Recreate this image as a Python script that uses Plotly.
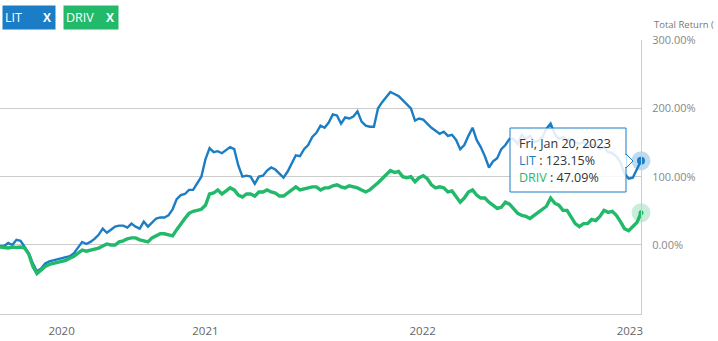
import pandas as pd
import plotly.graph_objects as go

# ---------------- data (weekly closes, total return %) ----------------
end_date = "2023-01-20"
n_weeks = 157
dates = pd.date_range(end=end_date, periods=n_weeks, freq="W-FRI")

lit = [
    -1.5, -1.5, 3.0, 0.0, 7.5, 6.0, -3.0, -11.9, -26.9, -38.8,
    -34.3, -26.9, -23.9, -22.4, -20.9, -19.4, -17.9, -16.4, -11.9, -4.5,
    4.5, 1.5, 4.5, 9.0, 14.9, 23.9, 17.9, 22.4, 26.9, 28.4,
    28.4, 25.4, 31.3, 26.9, 23.9, 34.3, 26.9, 32.8, 38.8, 40.3,
    40.3, 43.3, 52.2, 67.2, 73.1, 74.6, 80.6, 80.6, 89.6, 100.0,
    125.4, 141.8, 135.8, 137.3, 134.3, 138.8, 143.3, 140.3, 116.4, 100.0,
    101.5, 100.0, 89.6, 100.0, 101.5, 109.0, 113.4, 110.4, 104.5, 98.5,
    107.5, 119.4, 131.3, 129.9, 140.3, 146.3, 158.2, 164.2, 174.6, 171.6,
    179.1, 191.0, 189.6, 177.6, 186.6, 185.1, 188.1, 195.5, 180.6, 174.6,
    173.1, 173.1, 200.0, 209.0, 216.4, 223.9, 220.9, 217.9, 211.9, 206.0,
    200.0, 182.1, 185.1, 183.6, 177.6, 171.6, 167.2, 162.7, 165.7, 159.7,
    161.2, 153.7, 140.3, 146.3, 159.7, 171.6, 153.7, 143.3, 129.9, 113.4,
    122.4, 126.9, 140.3, 146.3, 155.2, 155.2, 147.8, 161.2, 155.2, 159.7,
    150.7, 152.2, 158.2, 170.1, 177.6, 162.7, 155.2, 158.2, 153.7, 155.2,
    150.7, 147.8, 150.7, 144.8, 146.3, 146.3, 140.3, 143.3, 135.8, 134.3,
    129.9, 120.9, 104.5, 97.0, 98.5, 110.4, 123.15,
]

driv = [
    -3.0, -3.7, -4.5, -3.0, -3.7, -3.0, -4.5, -13.4, -31.3, -41.8,
    -37.3, -31.3, -28.4, -26.9, -25.4, -23.9, -22.4, -19.4, -16.4, -11.9,
    -7.5, -9.0, -7.5, -6.0, -4.5, -1.5, 1.5, 0.0, 0.0, 4.5,
    6.0, 9.0, 10.4, 10.4, 7.5, 6.0, 4.5, 10.4, 13.4, 16.4,
    16.4, 14.9, 13.4, 22.4, 31.3, 38.8, 46.3, 49.3, 50.7, 52.2,
    58.2, 74.6, 76.1, 80.6, 74.6, 79.1, 83.6, 80.6, 73.1, 70.1,
    74.6, 74.6, 71.6, 77.6, 77.6, 80.6, 77.6, 76.1, 71.6, 71.6,
    76.1, 80.6, 85.1, 80.6, 82.1, 83.6, 85.1, 85.1, 80.6, 83.6,
    83.6, 86.6, 88.1, 85.1, 83.6, 86.6, 85.1, 83.6, 80.6, 77.6,
    80.6, 85.1, 91.0, 97.0, 103.0, 109.0, 106.0, 107.5, 100.0, 98.5,
    100.0, 92.5, 98.5, 101.5, 97.0, 88.1, 83.6, 85.1, 83.6, 77.6,
    79.1, 71.6, 62.7, 68.7, 77.6, 80.6, 73.1, 68.7, 68.7, 62.7,
    58.2, 53.7, 55.2, 62.7, 59.7, 52.2, 46.3, 43.3, 41.8, 38.8,
    43.3, 47.8, 52.2, 56.7, 68.7, 61.2, 58.2, 50.7, 50.7, 41.8,
    31.3, 26.9, 31.3, 31.3, 37.3, 35.8, 41.8, 50.7, 47.8, 49.3,
    43.3, 34.3, 23.9, 20.9, 26.9, 32.8, 47.09,
]

series_names = ["LIT", "DRIV"]
series_colors = ["#1a7dc5", "#22b96b"]
halo_colors = ["rgba(26,125,197,0.28)", "rgba(34,185,107,0.25)"]

y_ticks = [0, 100, 200, 300]
y_tick_labels = ["0.00%", "100.00%", "200.00%", "300.00%"]
x_tick_dates = ["2020-05-08", "2021-01-08", "2022-01-13", "2023-01-01"]
x_tick_labels = ["2020", "2021", "2022", "2023"]
tooltip_date = "Fri, Jan 20, 2023"
axis_title = "Total Return ("

# ---------------- figure ----------------
fig = go.Figure()
for name, vals, col, w in zip(series_names, [lit, driv], series_colors, [2.4, 3.4]):
    fig.add_trace(go.Scatter(x=dates, y=vals, mode="lines", name=name,
                             line=dict(color=col, width=w), hoverinfo="skip"))

# hover markers at last point
for vals, col, halo, dot in zip([lit, driv], series_colors, halo_colors, [8, 5]):
    fig.add_trace(go.Scatter(x=[dates[-1]], y=[vals[-1]], mode="markers",
                             marker=dict(size=19, color=halo, line=dict(width=0)),
                             hoverinfo="skip", cliponaxis=False))
    fig.add_trace(go.Scatter(x=[dates[-1]], y=[vals[-1]], mode="markers",
                             marker=dict(size=dot, color=col, line=dict(width=0)),
                             hoverinfo="skip", cliponaxis=False))

W, H = 718, 341
L, R, T, B = 0, 77, 40, 27
pw, ph = W - L - R, H - T - B


def px(x):
    return x / pw


def py(y):
    return (H - B - y) / ph


shapes = []
# tooltip box
shapes.append(dict(type="rect", xref="paper", yref="paper",
                   x0=px(510), x1=px(626), y0=py(192), y1=py(128),
                   fillcolor="rgba(255,255,255,0.86)",
                   line=dict(color=series_colors[0], width=1), layer="above"))
shapes.append(dict(type="path", xref="paper", yref="paper",
                   path=f"M {px(626)} {py(154)} L {px(633)} {py(161)} L {px(626)} {py(168)} Z",
                   fillcolor="rgba(255,255,255,0.95)",
                   line=dict(color=series_colors[0], width=1), layer="above"))
shapes.append(dict(type="line", xref="paper", yref="paper",
                   x0=px(625.5), x1=px(625.5), y0=py(155), y1=py(167),
                   line=dict(color="white", width=2), layer="above"))

annotations = []
# tooltip text
annotations.append(dict(xref="paper", yref="paper", x=px(517), y=py(143),
                        xanchor="left", yanchor="middle", showarrow=False,
                        text=tooltip_date,
                        font=dict(family="Open Sans", size=12.5, color="#333")))
annotations.append(dict(xref="paper", yref="paper", x=px(517), y=py(160),
                        xanchor="left", yanchor="middle", showarrow=False,
                        text=f"<span style='color:{series_colors[0]}'>{series_names[0]}</span> : {lit[-1]:.2f}%",
                        font=dict(family="Open Sans", size=12.5, color="#333")))
annotations.append(dict(xref="paper", yref="paper", x=px(517), y=py(177),
                        xanchor="left", yanchor="middle", showarrow=False,
                        text=f"<span style='color:{series_colors[1]}'>{series_names[1]}</span> : {driv[-1]:.2f}%",
                        font=dict(family="Open Sans", size=12.5, color="#333")))

# legend chips
chip_x = [2, 63]
chip_w = [56, 58]
for name, col, cx, cw in zip(series_names, series_colors, chip_x, chip_w):
    annotations.append(dict(xref="paper", yref="paper", x=px(cx), y=py(17.5),
                            xanchor="left", yanchor="middle", showarrow=False,
                            text=name, align="left", width=cw - 8, height=19,
                            bgcolor=col, borderpad=2,
                            font=dict(family="Open Sans", size=12.5, color="white")))
    annotations.append(dict(xref="paper", yref="paper", x=px(cx + cw - 11), y=py(17.5),
                            xanchor="center", yanchor="middle", showarrow=False,
                            text="<b>X</b>",
                            font=dict(family="Open Sans", size=12, color="white")))

# axis title (clipped at the right edge in the original)
annotations.append(dict(xref="paper", yref="paper", x=px(652), y=py(24),
                        xanchor="left", yanchor="middle", showarrow=False,
                        text=axis_title,
                        font=dict(family="Open Sans", size=9.5, color="#777")))

fig.update_layout(
    width=W, height=H,
    margin=dict(l=L, r=R, t=T, b=B, pad=0),
    paper_bgcolor="white", plot_bgcolor="white",
    showlegend=False, hovermode=False,
    shapes=shapes, annotations=annotations,
    xaxis=dict(range=[dates[0], dates[-1]], tickvals=x_tick_dates, ticktext=x_tick_labels,
               showgrid=False, zeroline=False, showline=True, linecolor="#cccccc", linewidth=1,
               ticks="", tickfont=dict(family="Open Sans", size=11.5, color="#666"),
               ticklabelstandoff=6),
    yaxis=dict(range=[-101, 300], side="right", tickvals=y_ticks, ticktext=y_tick_labels,
               showgrid=True, gridcolor="#cccccc", gridwidth=1, zeroline=False,
               showline=True, linecolor="#cccccc", linewidth=1, mirror=False,
               ticks="", tickfont=dict(family="Open Sans", size=11, color="#888"),
               ticklabelstandoff=8),
)

fig.write_html("out.html")
